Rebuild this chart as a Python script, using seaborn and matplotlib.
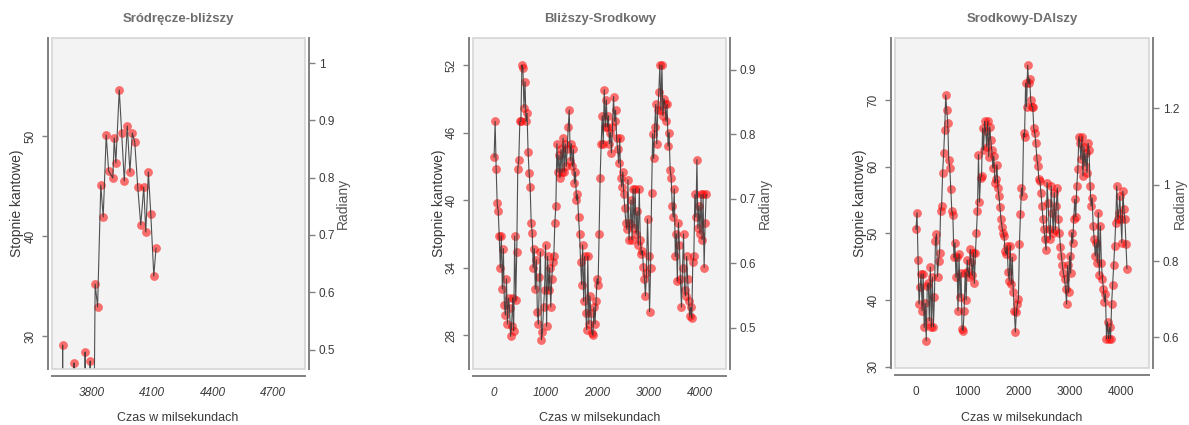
import numpy as np
import pandas as pd
import seaborn as sns
import matplotlib.pyplot as plt
from matplotlib.patches import Rectangle

sns.set_style("white")
plt.rcParams['font.family'] = ['Liberation Sans', 'DejaVu Sans']

# --- panel 1: Sródręcze-bliższy (values below 26 leave the plot) ---
t1 = [3647, 3653, 3659, 3704, 3710, 3716, 3759, 3765, 3771, 3784, 3790, 3800,
      3815, 3827, 3843, 3855, 3870, 3882, 3903, 3910, 3918, 3935, 3947, 3960,
      3975, 3988, 4000, 4012, 4027, 4042, 4057, 4067, 4080, 4092, 4107, 4118]
deg1 = [0, 29.1, 0, 0, 27.3, 0, 0, 28.4, 0, 0, 27.5, 0,
        35.2, 32.9, 45.1, 41.9, 50.1, 46.5, 45.8, 49.8, 47.3, 54.6, 50.3, 45.5,
        51.0, 46.4, 50.3, 49.4, 44.9, 41.1, 44.9, 40.4, 46.4, 42.2, 36.0, 38.8]

# --- panel 2: Bliższy-Srodkowy, one value every 20 ms ---
deg2 = [43.8, 47.0, 42.8, 39.7, 39.0, 36.8, 34.0, 36.8, 32.1, 35.7,
        30.7, 29.8, 33.0, 29.0, 31.3, 30.4, 27.9, 28.8, 31.3, 28.4,
        36.8, 31.1, 35.4, 42.8, 43.6, 47.0, 47.0, 52.0, 51.7, 48.2,
        50.5, 47.0, 47.7, 44.3, 42.4, 41.2, 38.0, 37.1, 34.0, 35.7,
        32.1, 34.7, 30.1, 29.0, 33.2, 35.4, 27.6, 28.3, 30.5, 32.0,
        36.0, 28.8, 35.0, 32.0, 34.0, 30.5, 33.0, 34.5, 35.0, 38.0,
        39.5, 45.0, 42.5, 44.0, 42.0, 44.5, 42.5, 45.5, 42.5, 45.0,
        43.0, 44.5, 46.5, 48.0, 43.5, 45.0, 43.0, 44.5, 41.5, 42.5,
        40.0, 40.5, 38.5, 37.0, 34.5, 32.5, 36.0, 31.0, 35.0, 30.0,
        28.5, 35.0, 29.0, 31.5, 30.0, 28.2, 28.0, 30.5, 29.0, 31.0,
        33.0, 32.5, 37.0, 42.0, 45.0, 47.5, 45.0, 49.8, 46.5, 48.9,
        46.5, 47.5, 45.0, 46.0, 44.2, 46.5, 49.2, 47.0, 48.0, 45.5,
        44.5, 43.3, 45.5, 42.0, 41.2, 42.5, 40.5, 39.3, 38.0, 37.4,
        41.8, 36.5, 38.0, 40.0, 36.5, 41.0, 37.5, 41.0, 37.0, 39.0,
        36.0, 41.0, 36.5, 35.2, 35.5, 34.1, 33.0, 31.5, 33.5, 38.3,
        35.0, 30.1, 34.0, 40.6, 45.9, 43.7, 46.5, 48.5, 45.0, 48.0,
        49.6, 52.0, 48.0, 52.0, 47.5, 49.0, 48.5, 47.0, 48.5, 44.8,
        46.0, 42.7, 42.0, 39.5, 38.5, 41.0, 35.0, 37.0, 32.8, 38.0,
        36.0, 33.0, 30.5, 34.0, 37.0, 32.0, 31.5, 35.0, 33.0, 31.0,
        29.7, 30.5, 29.5, 34.5, 35.0, 40.5, 38.5, 43.6, 37.5, 39.5,
        37.0, 40.5, 36.5, 40.5, 34.0, 38.0, 40.5]

# --- panel 3: Srodkowy-DAlszy, one value every 20 ms ---
deg3 = [50.6, 53.1, 46.0, 39.4, 41.9, 43.9, 38.4, 43.9, 35.9, 39.5,
        33.9, 42.1, 42.5, 36.9, 44.9, 35.9, 43.4, 36.0, 40.5, 48.9,
        49.9, 43.5, 45.9, 47.1, 53.3, 54.1, 59.1, 62.0, 65.5, 70.7,
        68.5, 66.5, 61.0, 59.8, 56.6, 53.3, 52.8, 46.4, 48.6, 43.4,
        46.4, 38.4, 46.9, 40.4, 44.1, 35.7, 35.4, 38.4, 44.1, 40.0,
        46.0, 44.4, 43.4, 47.6, 45.7, 43.7, 47.1, 42.5, 47.0, 50.1,
        53.4, 61.8, 54.7, 58.3, 58.6, 65.8, 62.5, 66.8, 65.3, 63.0,
        66.8, 61.5, 66.0, 64.0, 62.5, 59.8, 61.6, 57.6, 58.1, 60.3,
        56.8, 55.6, 53.9, 52.1, 50.9, 50.1, 49.6, 47.4, 46.9, 48.1,
        44.2, 42.9, 48.1, 42.4, 46.4, 41.2, 38.4, 35.2, 38.2, 39.4,
        40.2, 48.4, 52.9, 56.8, 55.6, 65.0, 64.5, 72.5, 69.0, 75.2,
        72.5, 73.2, 70.0, 69.0, 69.0, 65.8, 65.0, 63.5, 61.3, 60.1,
        58.1, 57.8, 56.1, 54.1, 52.1, 50.6, 49.1, 47.5, 57.6, 54.6,
        50.6, 49.1, 57.1, 53.1, 50.1, 56.1, 50.5, 54.1, 56.8, 52.1,
        50.1, 48.0, 46.6, 45.2, 44.0, 43.2, 41.7, 39.4, 45.2, 41.2,
        46.6, 44.0, 50.1, 48.5, 52.1, 55.1, 52.5, 57.1, 59.6, 64.5,
        63.5, 61.1, 64.5, 58.6, 63.0, 60.1, 62.0, 59.1, 63.5, 62.5,
        57.1, 54.1, 55.3, 51.1, 49.1, 46.6, 48.6, 45.6, 53.1, 43.7,
        51.1, 45.6, 43.2, 41.7, 39.7, 40.9, 34.2, 36.7, 34.2, 35.9,
        34.2, 39.4, 42.2, 45.2, 48.1, 51.6, 57.1, 52.1, 53.1, 55.6,
        52.1, 48.6, 56.3, 53.6, 52.1, 48.4, 44.7]

t2 = np.arange(len(deg2)) * 20
t3 = np.arange(len(deg3)) * 20

titles = ["Sródręcze-bliższy", "Bliższy-Srodkowy", "Srodkowy-DAlszy"]

W, H = 1189, 425
fig = plt.figure(figsize=(W / 100, H / 100), dpi=100)

AX_GRAY = "#808080"
TXT = "#3a3a3a"
NARROW = ["Liberation Sans Narrow", "Liberation Sans", "DejaVu Sans"]


def panel(t, deg, box, xlim, ylim, xticks, yticks, rticks, title, lab_x, italic):
    left, right, top, bottom, ylab_x, rad_x = box
    ax = fig.add_axes([left / W, 1 - bottom / H, (right - left) / W, (bottom - top) / H])
    ax.set_facecolor("#f3f3f3")
    df = pd.DataFrame({"t": t, "deg": deg})
    sns.scatterplot(data=df, x="t", y="deg", ax=ax, color="red", alpha=0.55,
                    s=40, linewidth=0, zorder=2)
    sns.lineplot(data=df, x="t", y="deg", ax=ax, color="#333333", lw=0.8,
                 alpha=0.85, estimator=None, sort=False, zorder=3)
    ax.set_xlim(*xlim)
    ax.set_ylim(*ylim)
    ax.set_xlabel("")
    ax.set_ylabel("")

    # light box round the plot region
    ax.add_patch(Rectangle((0, 0), 1, 1, transform=ax.transAxes, fill=False,
                           ec="#d6d6d6", lw=1.2, zorder=5, clip_on=False))
    for s in ["top", "right"]:
        ax.spines[s].set_visible(False)
    ax.spines["left"].set_position(("outward", 3))
    ax.spines["bottom"].set_position(("outward", 5))
    for s in ["left", "bottom"]:
        ax.spines[s].set_color(AX_GRAY)
        ax.spines[s].set_linewidth(1.4)

    ax.set_xticks(xticks)
    ax.set_yticks(yticks)
    ax.set_yticklabels([str(v) for v in yticks], rotation=90, va="center")
    ax.set_xticklabels([str(v) for v in xticks], style="italic" if italic else "normal")
    ax.tick_params(axis="both", direction="out", length=4, width=1, color=AX_GRAY,
                   labelsize=8.5, labelcolor=TXT, pad=4)

    ax2 = ax.twinx()
    ax2.set_ylim(np.radians(ylim[0]), np.radians(ylim[1]))
    ax2.set_yticks(rticks)
    ax2.set_yticklabels(["%g" % v for v in rticks], rotation=90, va="center")
    for s in ["top", "left", "bottom"]:
        ax2.spines[s].set_visible(False)
    ax2.spines["right"].set_position(("outward", 3))
    ax2.spines["right"].set_color(AX_GRAY)
    ax2.spines["right"].set_linewidth(1.4)
    ax2.tick_params(axis="y", direction="out", length=4, width=1, color=AX_GRAY,
                    labelsize=8.5, labelcolor=TXT, pad=3)

    fig.text(lab_x / W, 1 - 19 / H, title, ha="center", va="center",
             fontsize=9.5, fontweight="bold", color="#6e6e6e", family=NARROW)
    fig.text(lab_x / W, 1 - 418 / H, "Czas w milsekundach", ha="center", va="center",
             fontsize=9, color=TXT, family=NARROW)
    mid = 1 - (top + bottom) / 2 / H
    fig.text(ylab_x / W, mid, "Stopnie kantowe)", ha="center", va="center",
             rotation=90, fontsize=10, color=TXT)
    fig.text(rad_x / W, mid, "Radiany", ha="center", va="center",
             rotation=90, fontsize=10, color="#555555")
    return ax


panel(t1, deg1, (52, 305, 38, 369, 17, 343), (3600, 4860), (26.7, 59.8),
      [3800, 4100, 4400, 4700], [30, 40, 50], [0.5, 0.6, 0.7, 0.8, 0.9, 1.0],
      titles[0], 178, True)
panel(t2, deg2, (473, 726, 38, 369, 439, 765), (-410, 4505), (25.0, 54.4),
      [0, 1000, 2000, 3000, 4000], [28, 34, 40, 46, 52], [0.5, 0.6, 0.7, 0.8, 0.9],
      titles[1], 600, True)
panel(t3, deg3, (895, 1149, 38, 368, 860, 1180), (-410, 4550), (29.8, 79.3),
      [0, 1000, 2000, 3000, 4000], [30, 40, 50, 60, 70], [0.6, 0.8, 1.0, 1.2],
      titles[2], 1022, False)

fig.savefig("out.png", dpi=100, facecolor="white")
